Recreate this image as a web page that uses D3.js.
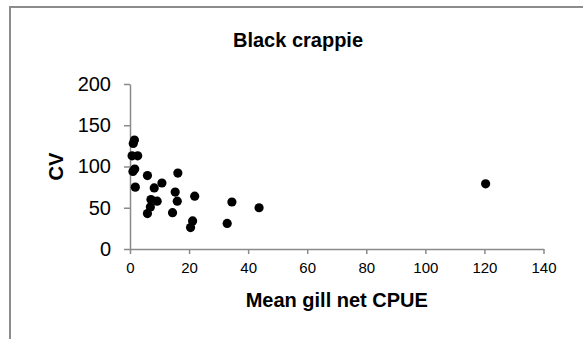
<!DOCTYPE html>
<html>
<head>
<meta charset="utf-8">
<script src="https://cdn.jsdelivr.net/npm/d3@7"></script>
<style>
    body { margin: 0; background: #fff; }
    svg { display: block; font-family: Arial, "Liberation Sans", sans-serif; }
    .axis path, .axis line { stroke: #8a8a8a; stroke-width: 1.5; }
</style>
</head>
<body>
<div id="chart"></div>
<script>
// mean gill net CPUE vs CV, one point per lake
var cpue = [1.5, 1.1, 0.7, 2.6, 1.6, 1.0, 1.8, 5.9, 16.2, 10.8, 8.2, 15.3, 7.1,
            9.2, 16.0, 6.9, 21.9, 5.9, 14.4, 21.2, 20.5, 34.5, 32.9, 43.7, 120.4];
var cv = [132, 128, 113, 113, 97, 94, 75, 89, 92, 80, 74, 69, 60,
          58, 58, 51, 64, 43, 44, 34, 26, 57, 31, 50, 79];

var xTicks = [0, 20, 40, 60, 80, 100, 120, 140];
var yTicks = [0, 50, 100, 150, 200];

var svgWidth = 583;
var svgHeight = 339;

var margin = {
    top: 84,
    right: 39.5,
    bottom: 90,
    left: 130
};

var chartWidth = svgWidth - margin.left - margin.right;
var chartHeight = svgHeight - margin.top - margin.bottom;

var svg = d3.select("#chart")
    .append("svg")
    .attr("width", svgWidth)
    .attr("height", svgHeight);

// outer frame (top and left edges show)
svg.append("path")
    .attr("d", "M10,339V7H583")
    .attr("fill", "none")
    .attr("stroke", "#8c8c8c")
    .attr("stroke-width", 2);

var chartGroup = svg.append("g")
    .attr("transform", `translate(${margin.left}, ${margin.top})`);

var xScale = d3.scaleLinear()
    .domain([0, 140])
    .range([0, chartWidth]);

var yScale = d3.scaleLinear()
    .domain([0, 200])
    .range([chartHeight, 0]);

var bottomAxis = d3.axisBottom(xScale)
    .tickValues(xTicks)
    .tickSizeInner(5)
    .tickSizeOuter(0)
    .tickPadding(8);

var leftAxis = d3.axisLeft(yScale)
    .tickValues(yTicks)
    .tickSizeInner(6)
    .tickSizeOuter(0)
    .tickPadding(13);

chartGroup.append("g")
    .classed("axis", true)
    .attr("transform", `translate(0, ${chartHeight})`)
    .call(bottomAxis)
    .selectAll("text")
    .attr("font-size", 15)
    .attr("font-family", "Arial, 'Liberation Sans', sans-serif")
    .attr("fill", "#000");

chartGroup.append("g")
    .classed("axis", true)
    .call(leftAxis)
    .selectAll("text")
    .attr("font-size", 20)
    .attr("font-family", "Arial, 'Liberation Sans', sans-serif")
    .attr("fill", "#000");

chartGroup.selectAll(".dot")
    .data(cpue)
    .enter()
    .append("circle")
    .classed("dot", true)
    .attr("cx", d => xScale(d))
    .attr("cy", (d, i) => yScale(cv[i]))
    .attr("r", 4.6)
    .attr("fill", "#000");

svg.append("text")
    .attr("x", 298)
    .attr("y", 46.5)
    .attr("text-anchor", "middle")
    .attr("font-size", 20)
    .attr("font-weight", "bold")
    .text("Black crappie");

svg.append("text")
    .attr("x", margin.left + chartWidth / 2)
    .attr("y", 306.5)
    .attr("text-anchor", "middle")
    .attr("font-size", 20)
    .attr("font-weight", "bold")
    .text("Mean gill net CPUE");

svg.append("text")
    .attr("transform", `translate(63, ${margin.top + yScale(100)}) rotate(-90)`)
    .attr("text-anchor", "middle")
    .attr("font-size", 20)
    .attr("font-weight", "bold")
    .text("CV");
</script>
</body>
</html>
